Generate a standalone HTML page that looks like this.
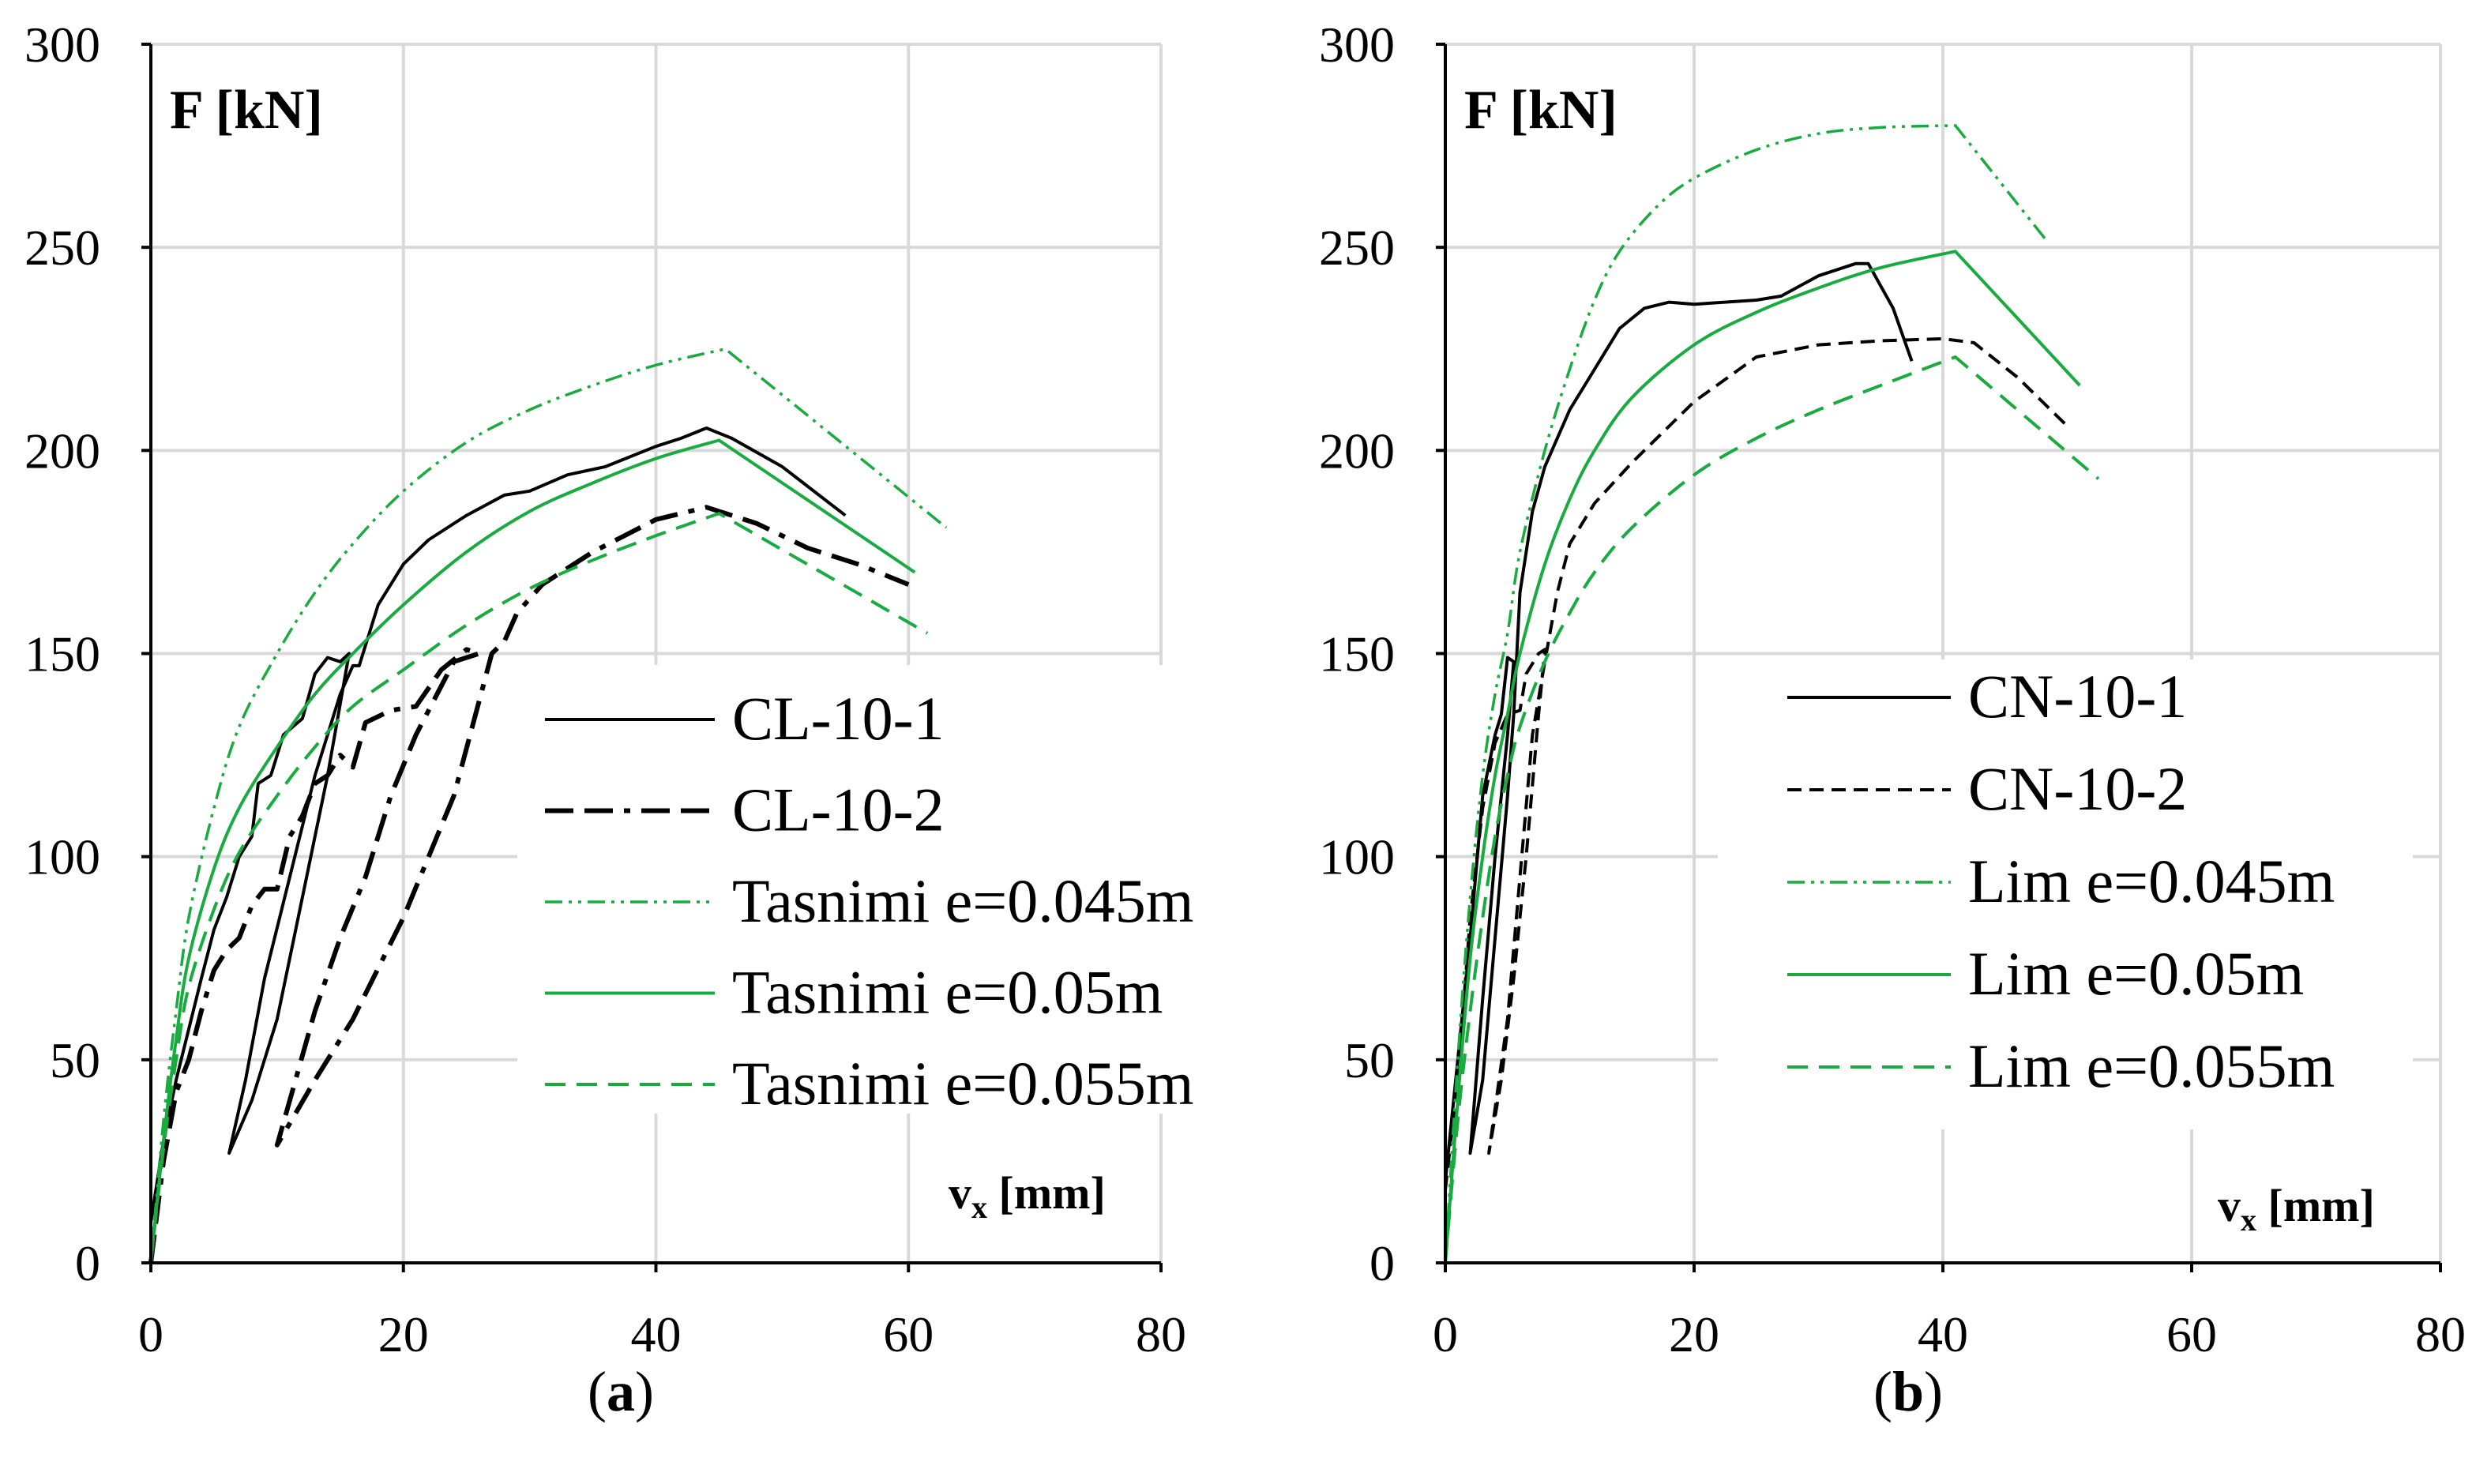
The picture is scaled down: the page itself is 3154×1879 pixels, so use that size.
<!DOCTYPE html>
<html><head><meta charset="utf-8"><style>
html,body{margin:0;padding:0;background:#fff}
svg{display:block}
text{font-family:"Liberation Serif",serif;fill:#000}
</style></head><body>
<svg id="fig" width="3154" height="1879" viewBox="0 0 3154 1879" xmlns="http://www.w3.org/2000/svg"></svg>
<script>
// ---- data ----
const xTicks=[0,20,40,60,80];
const yTicks=[0,50,100,150,200,250,300];
const aTas045=[[0,0],[1,35],[2,62],[3,85],[5,112],[7,132],[10,150],[13,165],[16,177],[20,190],[25,202],[30,210],[35,216],[40,221],[45.5,225],[63,181]];
const aTas05=[[0,0],[1,30],[2,55],[3,75],[5,97],[7,112],[10,127],[13,140],[16,150],[20,162],[25,175],[30,185],[35,192],[40,198],[45,202.5],[60.5,170]];
const aTas055=[[0,0],[1,28],[2,50],[3,68],[5,87],[7,101],[10,115],[13,127],[16,137],[20,146],[25,157],[30,166],[35,173],[40,179],[45,184.5],[61.5,155]];
const aCL1=[[0,10],[1,30],[2,45],[4,70],[5,82],[6,90],[7,100],[8,105],[8.5,118],[9.5,120],[10.5,130],[12,134],[13,145],[14,149],[15,148],[15.7,150],[14,120],[12,90],[10,60],[8,40],[6.2,27],[7.5,45],[9,70],[11,95],[13,120],[15,140],[16,147],[16.5,147],[17,152],[18,162],[20,172],[22,178],[25,184],[28,189],[30,190],[33,194],[36,196],[40,201],[42,203],[44,205.5],[46,203],[50,196],[55,184]];
const aCL2=[[0,0],[1,25],[2,42],[3,50],[4,62],[5,72],[6,77],[7,80],[8,88],[9,92],[10,92],[11,105],[12,110],[13,118],[14,120],[15,125],[16,122],[17,133],[19,136],[21,137],[23,146],[25,151],[26,150],[24,148],[21,130],[19,115],[17,95],[15,80],[13,62],[11,40],[10,29],[13,45],[16,60],[20,85],[24,115],[27,150],[28,153],[29,160],[31,167],[35,175],[40,183],[44,186],[48,182],[52,176],[56,172],[60,167]];
const bLim045=[[0,0],[1,50],[2,90],[3,120],[4,140],[5,155],[6,175],[8,200],[10,220],[12,237],[14,249],[17,260],[20,267],[25,274],[30,278],[35,279.5],[41,280],[48.5,251]];
const bLim05=[[0,0],[1,40],[2,75],[3,100],[4,120],[5,135],[6,150],[8,172],[10,188],[12,200],[15,213],[20,226],[25,234],[30,240],[35,245],[41,249],[51,216]];
const bLim055=[[0,0],[1,35],[2,62],[3,85],[4,105],[5,120],[6,132],[8,148],[10,160],[12,170],[15,181],[20,194],[25,203],[30,210],[35,216],[41,223],[52.5,193]];
const bCN1=[[0,20],[1,50],[2,80],[3,115],[4,130],[4.5,135],[5,149],[5.5,148],[5,130],[4,100],[3,65],[2,27],[3,45],[4,80],[5,115],[5.5,135],[6,165],[7,185],[8,196],[10,210],[12,220],[14,230],[16,235],[18,236.5],[20,236],[25,237],[27,238],[30,243],[33,246],[34,246],[36,235],[37.5,222]];
const bCN2=[[0,18],[1,45],[2,85],[3,112],[4,128],[5,135],[6,136],[6.5,145],[7.5,150],[8,151],[7.5,135],[6.5,100],[5.5,70],[4.5,45],[3.5,27],[5,60],[6,95],[7,130],[8,148],[9,165],[10,177],[12,187],[15,197],[18,206],[20,212],[25,223],[30,226],[35,227],[40,227.5],[42.5,226.5],[46,218],[50,206]];
const legA=["CL-10-1","CL-10-2","Tasnimi e=0.045m","Tasnimi e=0.05m","Tasnimi e=0.055m"];
const legB=["CN-10-1","CN-10-2","Lim e=0.045m","Lim e=0.05m","Lim e=0.055m"];

const NS="http://www.w3.org/2000/svg";
const svg=document.getElementById('fig');
function mk(tag,attrs,parent){const e=document.createElementNS(NS,tag);for(const k in attrs)e.setAttribute(k,attrs[k]);(parent||svg).appendChild(e);return e;}
const G="#1aab40";
const styles=[
 {stroke:"#000",w:4,dash:"",smooth:false},
 {stroke:"#000",w:6,dash:"36 14 36 14 8 14",smooth:false},
 {stroke:G,w:3.5,dash:"22 8 4 8 4 8",smooth:true},
 {stroke:G,w:4,dash:"",smooth:true},
 {stroke:G,w:4,dash:"26 14",smooth:true}
];
const stylesB=[styles[0],{stroke:"#000",w:4,dash:"18 10",smooth:false},styles[2],styles[3],styles[4]];

function smoothPath(pts){
  // catmull-rom, but keep the last segment (post-peak) straight
  let d="M"+pts[0][0].toFixed(1)+","+pts[0][1].toFixed(1);
  const n=pts.length;
  for(let i=0;i<n-1;i++){
    if(i===n-2){d+=" L"+pts[i+1][0].toFixed(1)+","+pts[i+1][1].toFixed(1);break;}
    const p0=pts[Math.max(0,i-1)],p1=pts[i],p2=pts[i+1],p3=(i+2<n-1)?pts[i+2]:pts[i+1];
    const c1=[p1[0]+(p2[0]-p0[0])/6,p1[1]+(p2[1]-p0[1])/6];
    const c2=[p2[0]-(p3[0]-p1[0])/6,p2[1]-(p3[1]-p1[1])/6];
    d+=" C"+c1[0].toFixed(1)+","+c1[1].toFixed(1)+" "+c2[0].toFixed(1)+","+c2[1].toFixed(1)+" "+p2[0].toFixed(1)+","+p2[1].toFixed(1);
  }
  return d;
}

function panel(p){
  const g=mk('g',{});
  
  
  const X=v=>p.x0+(p.x1-p.x0)*v/80;
  const Y=v=>p.y0+(p.y1-p.y0)*v/300;
  yTicks.forEach(t=>{if(t===0)return;const l=mk('line',{x1:p.x0,x2:p.x1,y1:Y(t),y2:Y(t),stroke:"#d9d9d9","stroke-width":4},g);
    });
  xTicks.forEach(t=>{if(t===0)return;const l=mk('line',{x1:X(t),x2:X(t),y1:p.y0,y2:p.y1,stroke:"#d9d9d9","stroke-width":4},g);
    });
  const lb=mk('rect',{x:p.lbx,y:p.lby,width:p.lbw,height:p.lbh,fill:"#fff"},g);
  
  p.series.forEach((s,i)=>{const st=p.styles[i];
    const pts=s.map(d=>[X(d[0]),Y(d[1])]);
    const path=mk('path',{d:st.smooth?smoothPath(pts):("M"+pts.map(q=>q[0].toFixed(1)+","+q[1].toFixed(1)).join(" L")),fill:"none",stroke:st.stroke,"stroke-width":st.w,"stroke-dasharray":st.dash,"stroke-linejoin":"round"},g);
    
    
  });
  const ya=mk('line',{x1:p.x0,x2:p.x0,y1:p.y0,y2:p.y1,stroke:"#000","stroke-width":4},g);
  
  const xa=mk('line',{x1:p.x0,x2:p.x1,y1:p.y0,y2:p.y0,stroke:"#000","stroke-width":4},g);
  
  yTicks.forEach(t=>{mk('line',{x1:p.x0-12,x2:p.x0,y1:Y(t),y2:Y(t),stroke:"#000","stroke-width":4},g);
    const tx=mk('text',{x:p.x0-64,y:Y(t)+22,"text-anchor":"end","font-size":64},g);tx.textContent=t;
    });
  xTicks.forEach(t=>{mk('line',{x1:X(t),x2:X(t),y1:p.y0,y2:p.y0+12,stroke:"#000","stroke-width":4},g);
    const tx=mk('text',{x:X(t),y:p.y0+112,"text-anchor":"middle","font-size":64},g);tx.textContent=t;
    });
  const ft=mk('text',{x:p.x0+24,y:p.y1+106,"font-size":70,"font-weight":"bold"},g);ft.textContent="F [kN]";
  
  const vt=mk('text',{x:p.vx,y:p.vy,"font-size":58,"font-weight":"bold"},g);
  vt.innerHTML='v<tspan font-size="40" dy="12">x</tspan><tspan dy="-12"> [mm]</tspan>';
  
  p.labels.forEach((lab,i)=>{const st=p.styles[i];const yy=p.ly0+i*p.ldy;
    const ll=mk('line',{x1:p.lx0,x2:p.lx1,y1:yy,y2:yy,stroke:st.stroke,"stroke-width":st.w,"stroke-dasharray":st.dash},g);
    
    const t=mk('text',{x:p.lx1+22,y:yy+25,"font-size":78},g);t.textContent=lab;
    });
  const c=mk('text',{x:p.capx,y:1786,"text-anchor":"middle","font-size":72},g);
  c.innerHTML='(<tspan font-weight="bold">'+p.cap+'</tspan>)';
  
}
panel({name:'panel-a',x0:191,x1:1470,y0:1599,y1:56,series:[aCL1,aCL2,aTas045,aTas05,aTas055],labels:legA,styles:styles,
  lbx:655,lby:842,lbw:880,lbh:568,lx0:690,lx1:905,ly0:911,ldy:115.5,vx:1201,vy:1530,cap:'a',capx:786});
panel({name:'panel-b',x0:1830,x1:3090,y0:1599,y1:56,series:[bCN1,bCN2,bLim045,bLim05,bLim055],labels:legB,styles:stylesB,
  lbx:2175,lby:835,lbw:880,lbh:595,lx0:2263,lx1:2470,ly0:883,ldy:117,vx:2808,vy:1546,cap:'b',capx:2416});
</script>
</body></html>
